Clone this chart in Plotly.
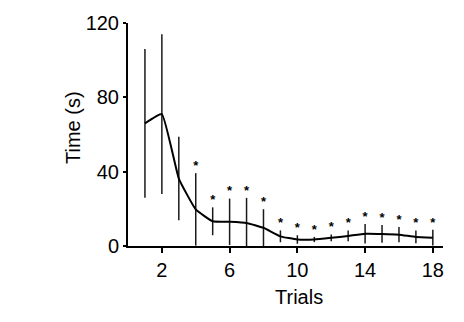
import plotly.graph_objects as go

trials = list(range(1, 19))
mean_time = [66, 71, 36.3, 19.7, 13.3, 13.0, 12.4, 9.8, 5.2, 3.5, 3.5, 4.4, 5.4, 6.6, 6.5, 6.1, 4.9, 4.5]
sd_time = [40, 43, 22.5, 19.5, 7.5, 12.5, 13.5, 10.0, 3.2, 2.3, 1.4, 1.8, 2.9, 5.3, 4.8, 4.1, 3.4, 4.2]
significant = [False, False, False] + [True] * 15

x_ticks = [2, 6, 10, 14, 18]
y_ticks = [0, 40, 80, 120]

err_minus = [min(s, m) for s, m in zip(sd_time, mean_time)]
tops = [m + s for m, s in zip(mean_time, sd_time)]

fig = go.Figure()
fig.add_trace(go.Scatter(
    x=trials, y=mean_time, mode="lines",
    line=dict(color="black", width=2, shape="spline", smoothing=0.35),
    error_y=dict(type="data", array=sd_time, arrayminus=err_minus,
                 color="#1a1a1a", thickness=1.5, width=0, visible=True),
    showlegend=False, hoverinfo="skip",
))
fig.add_trace(go.Scatter(
    x=[t for t, s in zip(trials, significant) if s],
    y=[v for v, s in zip(tops, significant) if s],
    mode="text", text=["<b>*</b>"] * sum(significant),
    textposition="top center",
    textfont=dict(family="Liberation Sans, Arial", size=13, color="black"),
    showlegend=False, hoverinfo="skip",
))

axis_font = dict(family="Liberation Sans, Arial", size=20, color="black")
fig.update_layout(
    width=464, height=322,
    margin=dict(l=128, r=21, t=17, b=76),
    paper_bgcolor="white", plot_bgcolor="white",
    font=axis_font,
    xaxis=dict(range=[0, 18.6], tickvals=x_ticks, ticks="outside", ticklen=5,
               tickwidth=1.5, tickcolor="black", showline=True, linecolor="black",
               linewidth=2, showgrid=False, zeroline=False),
    yaxis=dict(range=[0, 120], tickvals=y_ticks, ticks="outside", ticklen=3,
               tickwidth=1.5, tickcolor="black", showline=True, linecolor="black",
               linewidth=2, showgrid=False, zeroline=False),
    annotations=[
        dict(text="Trials", xref="paper", yref="paper", x=0.543, y=-0.227,
             xanchor="center", yanchor="middle", showarrow=False, font=axis_font),
        dict(text="Time (s)", xref="paper", yref="paper", x=-0.175, y=0.533,
             xanchor="center", yanchor="middle", textangle=-90, showarrow=False,
             font=axis_font),
    ],
)

fig.write_html("out.html")
